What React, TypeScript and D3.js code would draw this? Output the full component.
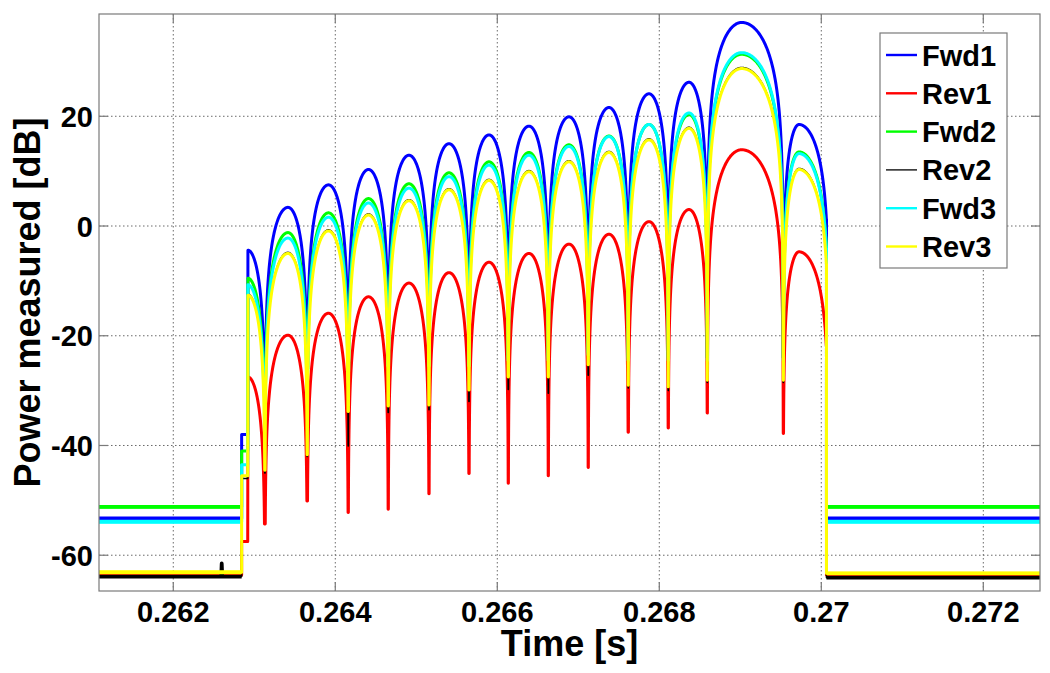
import React from 'react';
import * as d3 from 'd3';

// ---------- data ----------
const SERIES = ['Fwd1', 'Rev1', 'Fwd2', 'Rev2', 'Fwd3', 'Rev3'];
const COLORS = ['#0000ff', '#ff0000', '#00ff00', '#000000', '#00ffff', '#ffff00'];
const WIDTHS = [3, 3, 3, 1.5, 3, 3];

const X_TICKS = [0.262, 0.264, 0.266, 0.268, 0.27, 0.272];
const X_TICK_LABELS = ['0.262', '0.264', '0.266', '0.268', '0.27', '0.272'];
const Y_TICKS = [-60, -40, -20, 0, 20];
const Y_TICK_LABELS = ['-60', '-40', '-20', '0', '20'];

// timing of the burst (s)
const PULSE_START = 0.262844; // first small step
const BURST_START = 0.262919; // main rise
const PULSE_END = 0.270064; // cut-off
const LAST_LOBE_END = 0.270095;
// null positions between lobes (s)
const NULL_TIMES = [
  0.263132, 0.263654, 0.26416, 0.264654, 0.265157, 0.265651, 0.266136,
  0.26663, 0.267123, 0.267617, 0.268111, 0.268593, 0.269531,
];
// lobe peak positions (s)
const PEAK_TIMES = [
  0.262919, 0.263416, 0.263916, 0.26441, 0.26491, 0.265404, 0.265898,
  0.266391, 0.266885, 0.267379, 0.267873, 0.268367, 0.269017, 0.269725,
];

// lobe peak values (dB) per series
const FWD1_PEAKS = [-4.4, 3.4, 7.5, 10.3, 12.9, 15.0, 16.6, 18.2, 19.9, 21.6, 24.1, 26.2, 37.1, 18.5];
const REV1_PEAKS = [-27.5, -19.9, -15.9, -12.9, -10.4, -8.5, -6.6, -5.0, -3.3, -1.5, 0.8, 3.0, 13.9, -4.7];
const FWD2_PEAKS = [-9.5, -1.2, 2.4, 5.0, 7.7, 9.7, 11.7, 13.4, 14.8, 16.4, 18.5, 20.3, 31.3, 13.5];
const REV2_PEAKS = [-12.4, -4.8, -0.7, 2.2, 4.8, 6.8, 8.5, 10.1, 11.9, 13.6, 15.9, 18.0, 28.9, 10.5];
const FWD3_PEAKS = [-10.7, -2.2, 1.6, 4.2, 6.9, 9.0, 11.1, 12.9, 14.5, 16.3, 18.5, 20.6, 31.6, 13.2];
const REV3_PEAKS = [-12.6, -5.0, -0.9, 2.0, 4.6, 6.6, 8.3, 9.9, 11.7, 13.4, 15.7, 17.8, 28.7, 10.3];

// null depths (dB) per series
const FWD1_NULLS = [-28, -26, -26, -25, -25, -25, -24, -24, -23, -24, -24, -24, -24];
const REV1_NULLS = [-54.3, -50.1, -52.2, -51.6, -48.8, -45.1, -46.9, -45.5, -44.0, -37.6, -36.8, -34.1, -37.8];
const FWD2_NULLS = [-28, -26, -26, -25, -25, -25, -24, -24, -23, -24, -24, -24, -24];
const REV2_NULLS = [-45, -42, -40.1, -34, -33.5, -32, -29.8, -30.5, -27.2, -29.5, -30, -28.5, -28.5];
const FWD3_NULLS = [-28.5, -26.5, -26.5, -25.5, -25.5, -25.5, -24.5, -24.5, -23.5, -24.5, -24.5, -24.5, -24.5];
const REV3_NULLS = [-44.5, -41.7, -33.8, -32.8, -32.6, -29.9, -27.5, -27.5, -25.3, -29.0, -29.3, -28.1, -28.1];

// small first step level (dB)
const STEP_LEVELS = [-38, -57.5, -41, -46, -43.5, -45.5];
// noise floor before / after the burst (dB)
const FLOOR_BEFORE = [-53.3, -63.6, -51.2, -63.9, -53.9, -63.1];
const FLOOR_AFTER = [-53.3, -63.6, -51.2, -64.1, -53.9, -63.3];
// a single blip on Rev2's floor
const REV2_BLIP_TIME = 0.262598;
const REV2_BLIP_VALUE = -61.5;

const PEAKS = [FWD1_PEAKS, REV1_PEAKS, FWD2_PEAKS, REV2_PEAKS, FWD3_PEAKS, REV3_PEAKS];
const NULLS = [FWD1_NULLS, REV1_NULLS, FWD2_NULLS, REV2_NULLS, FWD3_NULLS, REV3_NULLS];

// ---------- layout ----------
const W = 1050;
const H = 673;
const PL = 99;
const PR = 1040;
const PT = 14;
const PB = 591;
const X_DOMAIN: [number, number] = [0.261083, 0.2727];
const Y_DOMAIN: [number, number] = [-66.52, 38.64];

const FONT = '"Liberation Sans", Arial, Helvetica, sans-serif';

type Pt = [number, number];

function lobePoints(t0: number, tp: number, t1: number, peak: number, nL: number, nR: number,
  uStart: number, tStop: number): Pt[] {
  const pts: Pt[] = [];
  const N = 260;
  for (let k = 0; k <= N; k++) {
    const s = k / N;
    const u = (1 - Math.cos(Math.PI * s)) / 2;
    if (u < uStart) continue;
    const t = u <= 0.5 ? t0 + (u / 0.5) * (tp - t0) : tp + ((u - 0.5) / 0.5) * (t1 - tp);
    if (t > tStop) break;
    const sv = Math.sin(Math.PI * u);
    const rel = sv > 1e-9 ? 20 * Math.log10(sv) : -999;
    const floor = u < 0.5 ? nL : nR;
    pts.push([t, Math.max(peak + rel, floor)]);
  }
  return pts;
}

function seriesPoints(i: number): { full: Pt[]; before: Pt[]; after: Pt[] } {
  const peaks = PEAKS[i];
  const nulls = NULLS[i];
  const before: Pt[] = [];
  before.push([X_DOMAIN[0], FLOOR_BEFORE[i]]);
  if (i === 3) {
    before.push([REV2_BLIP_TIME - 0.000006, FLOOR_BEFORE[i]]);
    before.push([REV2_BLIP_TIME, REV2_BLIP_VALUE]);
    before.push([REV2_BLIP_TIME + 0.000006, FLOOR_BEFORE[i]]);
  }
  before.push([PULSE_START, FLOOR_BEFORE[i]]);
  const full: Pt[] = [...before];
  full.push([PULSE_START, STEP_LEVELS[i]]);
  full.push([BURST_START, STEP_LEVELS[i]]);
  for (let L = 0; L < peaks.length; L++) {
    const tp = PEAK_TIMES[L];
    const t1 = L < NULL_TIMES.length ? NULL_TIMES[L] : LAST_LOBE_END;
    const t0 = L === 0 ? tp - (t1 - tp) : NULL_TIMES[L - 1];
    const nL = L === 0 ? nulls[0] : nulls[L - 1];
    const nR = L < nulls.length ? nulls[L] : nulls[nulls.length - 1];
    const pts = lobePoints(t0, tp, t1, peaks[L], nL, nR, L === 0 ? 0.5 : 0, PULSE_END);
    full.push(...pts);
  }
  const last = full[full.length - 1];
  full.push([PULSE_END, last[1]]);
  const after: Pt[] = [[PULSE_END, FLOOR_AFTER[i]], [X_DOMAIN[1], FLOOR_AFTER[i]]];
  full.push(...after);
  return { full, before, after };
}

export default function App() {
  const x = d3.scaleLinear().domain(X_DOMAIN).range([PL, PR]);
  const y = d3.scaleLinear().domain(Y_DOMAIN).range([PB, PT]);
  const line = d3.line<Pt>().x((d) => x(d[0])).y((d) => y(d[1]));

  const data = SERIES.map((_, i) => seriesPoints(i));

  const legendX = 880;
  const legendY = 33;
  const legendW = 127;
  const legendH = 235;
  const rowH = 38.3;

  return (
    <svg width={W} height={H} style={{ position: 'absolute', left: 0, top: 0, background: '#fff' }}
      xmlns="http://www.w3.org/2000/svg">
      <defs>
        <clipPath id="plotclip">
          <rect x={PL} y={PT} width={PR - PL} height={PB - PT} />
        </clipPath>
      </defs>
      <rect x={0} y={0} width={W} height={H} fill="#fff" />
      {/* grid */}
      <g stroke="#6a6a6a" strokeWidth={1} strokeDasharray="1.5,2.5">
        {X_TICKS.map((t) => (
          <line key={'gx' + t} x1={x(t)} x2={x(t)} y1={PT} y2={PB} />
        ))}
        {Y_TICKS.map((v) => (
          <line key={'gy' + v} x1={PL} x2={PR} y1={y(v)} y2={y(v)} />
        ))}
      </g>
      {/* series */}
      <g clipPath="url(#plotclip)" fill="none" strokeLinejoin="round">
        {data.map((d, i) => (
          <g key={SERIES[i]}>
            <path d={line(d.full) || ''} stroke={COLORS[i]} strokeWidth={WIDTHS[i]} />
            <path d={line(d.before) || ''} stroke={COLORS[i]} strokeWidth={3.8} />
            <path d={line(d.after) || ''} stroke={COLORS[i]} strokeWidth={3.8} />
          </g>
        ))}
      </g>
      {/* box & ticks */}
      <g stroke="#7a7a7a" strokeWidth={1.2} fill="none">
        <rect x={PL} y={PT} width={PR - PL} height={PB - PT} />
        {X_TICKS.map((t) => (
          <g key={'tx' + t}>
            <line x1={x(t)} x2={x(t)} y1={PB} y2={PB - 9} />
            <line x1={x(t)} x2={x(t)} y1={PT} y2={PT + 9} />
          </g>
        ))}
        {Y_TICKS.map((v) => (
          <g key={'ty' + v}>
            <line x1={PL} x2={PL + 9} y1={y(v)} y2={y(v)} />
            <line x1={PR} x2={PR - 9} y1={y(v)} y2={y(v)} />
          </g>
        ))}
      </g>
      {/* tick labels */}
      <g fontFamily={FONT} fontWeight="bold" fontSize={29} fill="#000">
        {X_TICKS.map((t, k) => (
          <text key={'lx' + t} x={x(t)} y={622} textAnchor="middle">{X_TICK_LABELS[k]}</text>
        ))}
        {Y_TICKS.map((v, k) => (
          <text key={'ly' + v} x={93} y={y(v) + 10.5} textAnchor="end">{Y_TICK_LABELS[k]}</text>
        ))}
      </g>
      {/* axis labels */}
      <text x={(PL + PR) / 2} y={656} textAnchor="middle" fontFamily={FONT} fontWeight="bold" fontSize={36}>
        Time [s]
      </text>
      <text transform={`translate(40, ${(PT + PB) / 2}) rotate(-90)`} textAnchor="middle" fontFamily={FONT}
        fontWeight="bold" fontSize={36}>
        Power measured [dB]
      </text>
      {/* legend */}
      <g>
        <rect x={legendX} y={legendY} width={legendW} height={legendH} fill="#fff" stroke="#7a7a7a" strokeWidth={1.2} />
        {SERIES.map((s, i) => {
          const cy = 55 + i * rowH;
          return (
            <g key={'lg' + s}>
              <line x1={886} x2={917} y1={cy} y2={cy} stroke={COLORS[i]} strokeWidth={i === 3 ? 1.3 : 2.4} />
              <text x={922} y={cy + 10.5} fontFamily={FONT} fontWeight="bold" fontSize={29} fill="#000">{s}</text>
            </g>
          );
        })}
      </g>
    </svg>
  );
}
